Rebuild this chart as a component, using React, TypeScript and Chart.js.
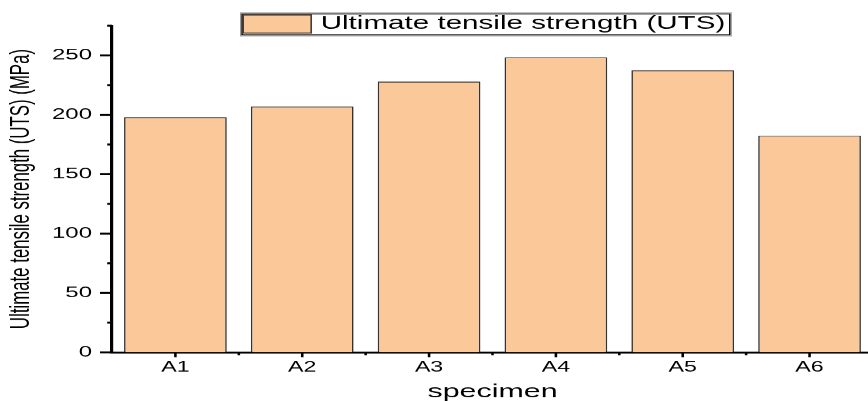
import React, { useEffect, useRef } from 'react';
import { Chart, registerables } from 'chart.js';

Chart.register(...registerables);

// Specimens and their measured ultimate tensile strength (MPa)
const specimens = ['A1', 'A2', 'A3', 'A4', 'A5', 'A6'];
const utsValues = [198, 207, 228, 248.5, 237.5, 182.5];
const seriesLabel = 'Ultimate tensile strength (UTS)';

// Value axis: ticks every 25 MPa, labels every 50 MPa
const yMin = 0;
const yMax = 275;
const yStep = 25;
const yLabelEvery = 50;

const xTitle = 'specimen';
const yTitle = 'Ultimate tensile strength (UTS) (MPa)';

// The chart is laid out on a narrow canvas and widened horizontally with CSS,
// which gives the wide lettering and the thicker vertical strokes.
const STRETCH = 1.6;
const LOGICAL_W = 550;
const HEIGHT = 401;

const FILL = '#FBC899';
const EDGE = '#333333';
const FONT = "'Liberation Sans', Arial, sans-serif";

// Major/minor tick marks on both axes
const axisTicksPlugin = {
  id: 'axisTicks',
  afterDraw(chart: any) {
    const { ctx, chartArea, scales } = chart;
    const ys = scales.y;
    const xs = scales.x;
    ctx.save();
    ctx.strokeStyle = '#000';
    ctx.lineWidth = 2;
    for (let v = yMin; v <= yMax; v += yStep) {
      const py = ys.getPixelForValue(v);
      const len = v % yLabelEvery === 0 ? 7.5 : 3;
      ctx.beginPath();
      ctx.moveTo(chartArea.left - len, py);
      ctx.lineTo(chartArea.left, py);
      ctx.stroke();
    }
    ctx.lineWidth = 1.6;
    const base = chartArea.bottom;
    for (let i = 0; i < specimens.length; i++) {
      const px = xs.getPixelForValue(i);
      ctx.beginPath();
      ctx.moveTo(px, base);
      ctx.lineTo(px, base + 5);
      ctx.stroke();
      if (i > 0) {
        const mid = (xs.getPixelForValue(i - 1) + px) / 2;
        ctx.beginPath();
        ctx.moveTo(mid, base);
        ctx.lineTo(mid, base + 3);
        ctx.stroke();
      }
    }
    ctx.restore();
  },
};

// Framed legend sitting over the top of the plot
const legendBoxPlugin = {
  id: 'legendBox',
  afterDraw(chart: any) {
    const { ctx, chartArea } = chart;
    const ds = chart.data.datasets[0];
    const left = chartArea.left + 80.4;
    const top = 12.7;
    const w = 306.6;
    const h = 23.3;
    ctx.save();
    ctx.fillStyle = '#fff';
    ctx.fillRect(left, top, w, h);
    ctx.strokeStyle = '#9a9a9a';
    ctx.lineWidth = 0.8;
    ctx.strokeRect(left, top, w, h);
    ctx.strokeStyle = '#000';
    ctx.lineWidth = 0.9;
    ctx.strokeRect(left + 0.9, top + 1.2, w - 1.8, h - 2.4);
    // swatch
    ctx.fillStyle = ds.backgroundColor;
    ctx.fillRect(left + 1.6, 15, 42.5, 18);
    ctx.strokeStyle = '#4a3a30';
    ctx.lineWidth = 1;
    ctx.strokeRect(left + 1.6, 15, 42.5, 18);
    // label
    ctx.fillStyle = '#000';
    ctx.font = `18.5px ${FONT}`;
    ctx.textBaseline = 'alphabetic';
    ctx.textAlign = 'left';
    ctx.fillText(ds.label, left + 50, 28.5);
    ctx.restore();
  },
};

export default function App() {
  const canvasRef = useRef<HTMLCanvasElement | null>(null);

  useEffect(() => {
    const canvas = canvasRef.current;
    if (!canvas) return;
    const chart = new Chart(canvas, {
      type: 'bar',
      data: {
        labels: specimens,
        datasets: [
          {
            label: seriesLabel,
            data: utsValues,
            backgroundColor: FILL,
            borderColor: EDGE,
            borderWidth: 1,
            barPercentage: 0.81,
            categoryPercentage: 1,
          },
        ],
      },
      options: {
        animation: false,
        responsive: true,
        maintainAspectRatio: false,
        devicePixelRatio: STRETCH,
        layout: { padding: { top: 25.7, right: 4.4, bottom: 0, left: 0 } },
        plugins: {
          legend: { display: false },
          tooltip: { enabled: false },
        },
        scales: {
          x: {
            type: 'category',
            offset: true,
            z: 1,
            grid: { display: false, drawTicks: false },
            border: { display: true, color: '#000', width: 2 },
            ticks: {
              color: '#000',
              padding: 6.5,
              font: { family: FONT, size: 14.5 },
              maxRotation: 0,
            },
            title: {
              display: true,
              text: xTitle,
              color: '#000',
              font: { family: FONT, size: 19, lineHeight: 1 },
              padding: { top: 0, bottom: 0 },
            },
            afterFit(scale: any) {
              scale.height = 49;
            },
          },
          y: {
            type: 'linear',
            min: yMin,
            max: yMax,
            z: 1,
            grid: { display: false, drawTicks: false },
            border: { display: true, color: '#000', width: 2 },
            ticks: {
              stepSize: yStep,
              autoSkip: false,
              color: '#000',
              padding: 12.5,
              font: { family: FONT, size: 15 },
              callback: (v: any) => (Number(v) % yLabelEvery === 0 ? String(v) : ''),
            },
            title: {
              display: true,
              text: yTitle,
              color: '#000',
              font: { family: FONT, size: 16.8, lineHeight: 1.2 },
              padding: { top: 3.2, bottom: 0 },
            },
            afterFit(scale: any) {
              scale.width = 70;
            },
          },
        },
      },
      plugins: [axisTicksPlugin, legendBoxPlugin],
    });
    return () => chart.destroy();
  }, []);

  return (
    <div
      style={{
        position: 'fixed',
        left: 0,
        top: 0,
        width: 868,
        height: HEIGHT,
        overflow: 'hidden',
        background: '#fff',
      }}
    >
      <div
        style={{
          position: 'relative',
          width: LOGICAL_W,
          height: HEIGHT,
          transform: `scaleX(${STRETCH})`,
          transformOrigin: '0 0',
        }}
      >
        <canvas ref={canvasRef} />
      </div>
    </div>
  );
}
